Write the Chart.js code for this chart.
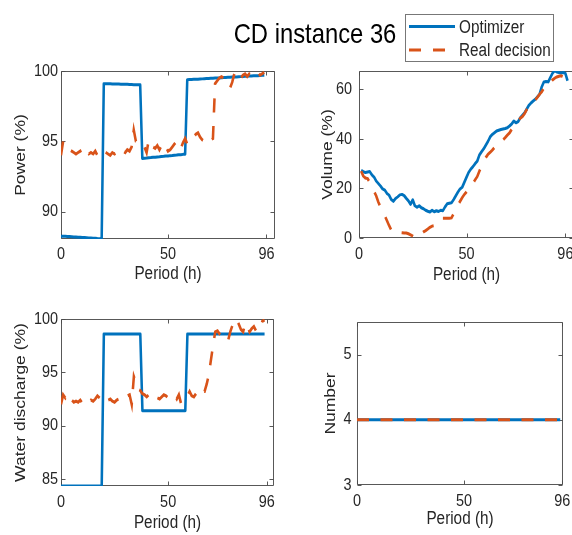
<!DOCTYPE html>
<html><head><meta charset="utf-8">
<script src="https://cdn.jsdelivr.net/npm/chart.js@4.4.1/dist/chart.umd.min.js"></script>
<style>
html,body{margin:0;padding:0;background:#fff;width:572px;height:535px;overflow:hidden;position:relative;}
canvas{position:absolute;left:0;top:0;}
.t{position:absolute;white-space:nowrap;font-family:"Liberation Sans",Arial,sans-serif;color:#000;}
#title{left:165px;width:300px;top:20px;font-size:28px;line-height:28px;text-align:center;transform:scaleX(0.85);transform-origin:50% 50%;}
#legend{position:absolute;left:405px;top:14px;width:149px;height:48px;box-sizing:border-box;border:1px solid #777;background:#fff;}
.lt{font-size:18px;line-height:18px;color:#262626;transform:scaleX(0.85);transform-origin:0 50%;}
</style></head><body>
<canvas id="c1" width="720" height="535"></canvas>
<canvas id="c2" width="720" height="535"></canvas>
<canvas id="c3" width="720" height="535"></canvas>
<canvas id="c4" width="720" height="535"></canvas>
<div id="title" class="t">CD instance 36</div>
<div id="legend"></div>
<svg style="position:absolute;left:0;top:0" width="572" height="80">
<line x1="409" y1="26.5" x2="455" y2="26.5" stroke="#0072BD" stroke-width="3"/>
<line x1="409" y1="50" x2="455" y2="50" stroke="#D95319" stroke-width="3" stroke-dasharray="12 12"/>
</svg>
<div class="t lt" style="left:459px;top:18px;">Optimizer</div>
<div class="t lt" style="left:459px;top:41px;">Real decision</div>
<script>
const hours = [0,1,2,3,4,5,6,7,8,9,10,11,12,13,14,15,16,17,18,19,20,21,22,23,24,25,26,27,28,29,30,31,32,33,34,35,36,37,38,39,40,41,42,43,44,45,46,47,48,49,50,51,52,53,54,55,56,57,58,59,60,61,62,63,64,65,66,67,68,69,70,71,72,73,74,75,76,77,78,79,80,81,82,83,84,85,86,87,88,89,90,91,92,93,94,95];
const volHours = [1,2,3,4,5,6,7,8,9,10,11,12,13,14,15,16,17,18,19,20,21,22,23,24,25,26,27,28,29,30,31,32,33,34,35,36,37,38,39,40,41,42,43,44,45,46,47,48,49,50,51,52,53,54,55,56,57,58,59,60,61,62,63,64,65,66,67,68,69,70,71,72,73,74,75,76,77,78,79,80,81,82,83,84,85,86,87,88,89,90,91,92,93,94,95,96,97];

const powerOpt = [88.25,88.25,88.24,88.23,88.22,88.21,88.20,88.19,88.18,88.17,88.16,88.15,88.14,88.13,88.12,88.11,88.10,88.08,88.07,88.05,
99.10,99.10,99.09,99.09,99.08,99.08,99.07,99.07,99.06,99.06,99.05,99.05,99.04,99.04,99.03,99.03,99.02,99.02,
93.78,93.80,93.81,93.83,93.84,93.86,93.87,93.89,93.90,93.92,93.93,93.95,93.96,93.98,93.99,94.01,94.02,94.04,94.05,94.07,94.08,
99.38,99.39,99.40,99.41,99.42,99.42,99.43,99.44,99.45,99.46,99.47,99.48,99.49,99.50,99.50,99.51,99.52,99.53,99.54,99.55,99.56,99.57,99.58,99.58,99.59,99.60,99.61,99.62,99.63,99.64,99.65,99.66,99.66,99.67,99.68,99.69,99.70];
const powerReal = [94.0,95.0,94.9,94.7,94.4,94.3,94.2,94.1,94.2,94.3,
94.0,94.2,94.3,94.1,94.2,94.1,94.3,94.0,94.2,94.1,
94.3,94.2,94.1,94.0,94.2,94.1,94.2,94.0,94.2,94.3,
94.2,94.4,94.3,94.6,95.8,95.0,94.9,94.7,94.8,94.6,
94.2,95.1,94.8,94.6,94.5,94.7,94.4,94.7,94.9,94.6,
94.3,94.4,94.6,94.8,95.0,94.6,94.5,94.9,95.2,94.8,
95.0,95.2,95.3,95.5,95.6,95.3,95.1,95.0,95.2,95.3,
95.1,95.2,99.1,99.3,99.5,99.6,99.5,99.3,99.0,98.8,
99.2,99.8,100.0,99.7,99.5,99.7,99.8,99.6,99.8,99.7,
99.6,99.8,99.9,99.7,99.8,99.9];

const volOpt = [27.3,26.8,26.4,26.6,26.8,25.5,24.6,23.0,22.0,21.0,
19.8,19.3,18.0,17.3,15.5,14.8,15.9,16.6,17.4,17.6,
17.1,16.0,15.0,13.6,15.4,13.0,12.4,13.0,12.2,11.8,
11.2,10.8,10.5,11.2,10.6,11.0,10.7,11.2,11.0,12.5,
13.8,14.0,14.2,15.5,17.0,18.5,19.8,20.5,22.5,24.5,
26.5,27.8,28.8,30.0,31.0,33.5,34.8,36.0,37.5,39.0,
40.8,41.8,42.5,43.2,43.5,43.8,44.0,44.2,44.5,45.2,
46.0,47.2,46.5,47.0,48.5,49.5,50.5,52.0,53.5,54.5,
55.3,56.0,57.0,58.0,61.0,63.0,63.2,63.0,64.8,66.5,
67.5,67.0,66.8,66.6,66.8,66.4,63.5];
const volReal = [27.0,25.0,24.2,24.0,22.5,20.5,18.8,17.0,14.5,12.5,
10.5,9.0,7.0,5.0,3.2,2.4,2.3,2.3,2.2,2.1,
2.0,2.0,1.7,1.3,0.8,0.2,0.6,1.2,1.8,2.5,
3.0,3.6,4.3,4.8,5.0,5.4,6.0,7.0,8.0,8.0,
8.0,8.0,8.1,9.8,11.8,13.2,14.8,16.3,17.6,18.6,
19.8,20.8,22.0,23.5,24.8,27.0,29.0,31.0,32.5,33.8,
34.6,35.5,36.5,37.2,38.0,38.8,39.6,40.5,41.5,42.4,
43.8,45.0,46.4,47.5,48.3,49.0,50.2,51.8,53.0,54.2,
55.0,55.7,56.8,58.0,59.0,60.5,61.5,62.0,62.5,63.8,
64.5,65.0,65.3,65.5,65.0,63.5,62.0];

const waterOpt = [84.35,84.35,84.35,84.35,84.35,84.35,84.35,84.35,84.35,84.35,84.35,84.35,84.35,84.35,84.35,84.35,84.35,84.35,84.35,84.35,
98.6,98.6,98.6,98.6,98.6,98.6,98.6,98.6,98.6,98.6,98.6,98.6,98.6,98.6,98.6,98.6,98.6,98.6,
91.4,91.4,91.4,91.4,91.4,91.4,91.4,91.4,91.4,91.4,91.4,91.4,91.4,91.4,91.4,91.4,91.4,91.4,91.4,91.4,91.4,
98.6,98.6,98.6,98.6,98.6,98.6,98.6,98.6,98.6,98.6,98.6,98.6,98.6,98.6,98.6,98.6,98.6,98.6,98.6,98.6,98.6,98.6,98.6,98.6,98.6,98.6,98.6,98.6,98.6,98.6,98.6,98.6,98.6,98.6,98.6,98.6,98.6];
const waterReal = [92.0,92.9,92.6,93.0,92.7,92.4,92.2,92.3,92.2,92.4,
92.1,92.3,92.1,92.2,92.4,92.3,92.5,92.8,92.6,92.4,
92.7,92.5,92.4,92.5,92.3,92.2,92.4,92.5,92.3,92.4,
92.6,92.8,92.9,92.0,94.6,94.0,93.4,93.3,93.0,92.9,
92.7,92.9,92.6,92.5,92.4,92.6,92.5,92.7,92.9,92.8,
92.6,92.7,92.9,92.8,92.5,92.9,92.1,92.4,92.6,92.8,
93.2,92.8,92.7,93.0,93.3,93.5,93.2,93.2,93.9,94.8,
96.2,97.6,98.8,98.9,98.6,98.4,98.5,98.3,98.0,98.8,
99.4,99.9,100.0,99.5,99.0,98.8,99.6,99.3,98.8,99.1,
99.3,98.9,98.8,99.2,99.8,99.9];

const unitsOpt = [4,4,4,4,4,4,4,4,4,4,4,4,4,4,4,4,4,4,4,4,4,4,4,4,4,4,4,4,4,4,4,4,4,4,4,4,4,4,4,4,4,4,4,4,4,4,4,4,4,4,4,4,4,4,4,4,4,4,4,4,4,4,4,4,4,4,4,4,4,4,4,4,4,4,4,4,4,4,4,4,4,4,4,4,4,4,4,4,4,4,4,4,4,4,4,4];
const unitsReal = [4,4,4,4,4,4,4,4,4,4,4,4,4,4,4,4,4,4,4,4,4,4,4,4,4,4,4,4,4,4,4,4,4,4,4,4,4,4,4,4,4,4,4,4,4,4,4,4,4,4,4,4,4,4,4,4,4,4,4,4,4,4,4,4,4,4,4,4,4,4,4,4,4,4,4,4,4,4,4,4,4,4,4,4,4,4,4,4,4,4,4,4,4,4,4,4];

const xTicks = [0,50,96];
const powerTicks = [90,95,100];
const volTicks = [0,20,40,60];
const waterTicks = [85,90,95,100];
const unitTicks = [3,4,5];

const S = 0.85;               // horizontal squeeze of the whole figure
const FONT = '"Liberation Sans",Arial,sans-serif';
const BLUE = '#0072BD', ORANGE = '#D95319', TXT = '#262626';
const CW = 720, CH = 535;

// draw the whole chart through a horizontal squeeze transform
const squeezePlugin = {
  id: 'squeeze',
  beforeDraw(chart) { chart.ctx.save(); chart.ctx.setTransform(S, 0, 0, 1, 0, 0); },
  afterDraw(chart) { chart.ctx.restore(); }
};

const boxPlugin = {
  id: 'mbox',
  beforeDatasetsDraw(chart) {
    const {ctx, chartArea: a, scales} = chart;
    ctx.save();
    ctx.strokeStyle = '#4a4a4a';
    ctx.lineWidth = 1;
    ctx.beginPath();
    const top = Math.round(a.top) + 0.5, bot = Math.round(a.bottom) - 0.5;
    const L = (Math.round(a.left * S) + 0.5) / S, R = (Math.round(a.right * S) - 0.5) / S;
    ctx.moveTo(L, top); ctx.lineTo(R, top); ctx.lineTo(R, bot); ctx.lineTo(L, bot); ctx.closePath();
    const tl = 4;
    scales.x.ticks.forEach(t => {
      const p = (Math.round(scales.x.getPixelForValue(t.value) * S) + 0.5) / S;
      ctx.moveTo(p, bot); ctx.lineTo(p, bot - tl);
      ctx.moveTo(p, top); ctx.lineTo(p, top + tl);
    });
    scales.y.ticks.forEach(t => {
      const p = Math.round(scales.y.getPixelForValue(t.value)) + 0.5;
      ctx.moveTo(L, p); ctx.lineTo(L + tl / S, p);
      ctx.moveTo(R, p); ctx.lineTo(R - tl / S, p);
    });
    ctx.setTransform(S, 0, 0, 1, 0, 0);
    ctx.stroke();
    ctx.restore();
  }
};

function series(xs, ys) { return xs.map((x, i) => ({x: x, y: ys[i]})); }

function makePlot(id, cfg) {
  const b = cfg.box;
  const wy = cfg.wy / S;
  new Chart(document.getElementById(id), {
    type: 'line',
    data: {
      datasets: [
        {label: 'Optimizer', data: series(cfg.xs, cfg.opt), borderColor: BLUE, borderWidth: 3, pointRadius: 0, tension: 0, borderJoinStyle: 'round', order: 1},
        {label: 'Real decision', data: series(cfg.xs, cfg.real), borderColor: ORANGE, borderWidth: 3, pointRadius: 0, tension: 0, borderDash: [12 / S, 11.5 / S], order: 0}
      ]
    },
    options: {
      responsive: false, animation: false, devicePixelRatio: 1,
      layout: {padding: {left: b.l / S - wy, top: b.t, right: CW - b.r / S, bottom: CH - b.b - cfg.hx}},
      plugins: {legend: {display: false}, tooltip: {enabled: false}},
      scales: {
        x: {
          type: 'linear', min: cfg.xr[0], max: cfg.xr[1],
          afterBuildTicks: s => { s.ticks = xTicks.map(v => ({value: v})); },
          afterFit: s => { s.height = cfg.hx; },
          grid: {display: false, drawTicks: false}, border: {display: false},
          ticks: {font: {family: FONT, size: 17, lineHeight: 1}, color: TXT, padding: cfg.xpad, maxRotation: 0, autoSkip: false, callback: v => String(v)},
          title: {display: true, text: 'Period (h)', font: {family: FONT, size: 18, lineHeight: 1}, color: TXT, padding: 0}
        },
        y: {
          type: 'linear', min: cfg.yr[0], max: cfg.yr[1],
          afterBuildTicks: s => { s.ticks = cfg.yt.map(v => ({value: v})); },
          afterFit: s => { s.width = wy; },
          grid: {display: false, drawTicks: false}, border: {display: false},
          ticks: {font: {family: FONT, size: 17, lineHeight: 1}, color: TXT, padding: cfg.ygap / S, autoSkip: false, callback: v => String(v)},
          title: {display: true, text: cfg.ytitle, font: {family: FONT, size: 17.5, lineHeight: 1}, color: TXT, padding: 0}
        }
      }
    },
    plugins: [squeezePlugin, boxPlugin]
  });
}

makePlot('c1', {box: {l: 61, t: 71, r: 275, b: 239}, xr: [0, 100], yr: [88.05, 100], yt: powerTicks, ytitle: 'Power (%)', wy: 47.5, hx: 44, xpad: 6.5, ygap: 3, xs: hours, opt: powerOpt, real: powerReal});
makePlot('c2', {box: {l: 359, t: 71, r: 574, b: 238}, xr: [0, 100], yr: [0, 67.4], yt: volTicks, ytitle: 'Volume (%)', wy: 38.5, hx: 46, xpad: 8, ygap: 7, xs: volHours, opt: volOpt, real: volReal});
makePlot('c3', {box: {l: 61, t: 319, r: 274, b: 486}, xr: [0, 99.4], yr: [84.35, 100], yt: waterTicks, ytitle: 'Water discharge (%)', wy: 48, hx: 46, xpad: 8, ygap: 3, xs: hours, opt: waterOpt, real: waterReal});
makePlot('c4', {box: {l: 357, t: 322, r: 563, b: 485}, xr: [0, 96.3], yr: [3, 5.5], yt: unitTicks, ytitle: 'Number', wy: 34, hx: 43, xpad: 8, ygap: 5.5, xs: hours, opt: unitsOpt, real: unitsReal});
</script>
</body></html>
